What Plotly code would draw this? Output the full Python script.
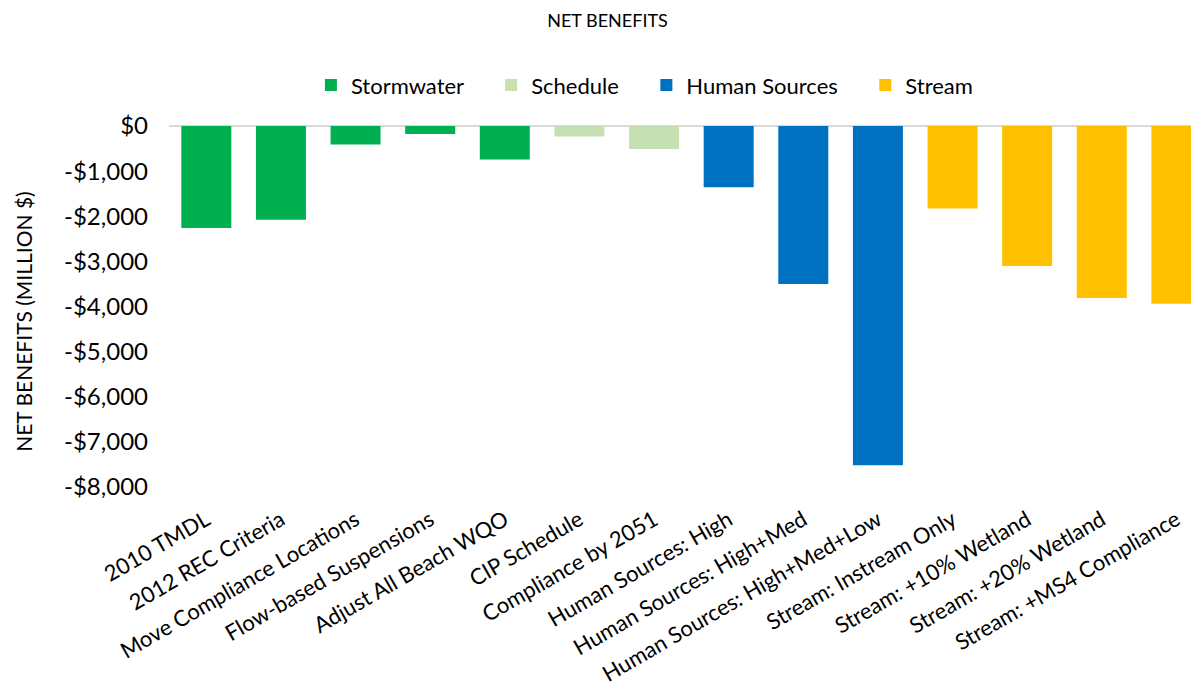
"""
Net benefits bar chart, grouped by scenario family.
"""
import plotly.graph_objects as go

categories = [
    "2010 TMDL", "2012 REC Criteria", "Move Compliance Locations",
    "Flow-based Suspensions", "Adjust All Beach WQO", "CIP Schedule",
    "Compliance by 2051", "Human Sources: High", "Human Sources: High+Med",
    "Human Sources: High+Med+Low", "Stream: Instream Only",
    "Stream: +10% Wetland", "Stream: +20% Wetland", "Stream: +MS4 Compliance",
]
net_benefits = [-2260, -2080, -410, -180, -740, -230, -510,
                -1360, -3500, -7520, -1830, -3100, -3810, -3940]
group = ["Stormwater"] * 5 + ["Schedule"] * 2 + ["Human Sources"] * 3 + ["Stream"] * 4

group_names = ["Stormwater", "Schedule", "Human Sources", "Stream"]
group_colors = ["#00B050", "#C6E0B4", "#0070C0", "#FFC000"]

tick_vals = [0, -1000, -2000, -3000, -4000, -5000, -6000, -7000, -8000]
tick_text = ["$0", "-$1,000", "-$2,000", "-$3,000", "-$4,000",
             "-$5,000", "-$6,000", "-$7,000", "-$8,000"]

FONT = "Lato, 'Open Sans', sans-serif"
PAD = "\u00a0" * 4  # extra gap between legend entries

fig = go.Figure()
for i, (name, color) in enumerate(zip(group_names, group_colors)):
    xs = [c for c, g in zip(categories, group) if g == name]
    ys = [v for v, g in zip(net_benefits, group) if g == name]
    label = name + (PAD if i < len(group_names) - 1 else "")
    fig.add_trace(go.Bar(x=xs, y=ys, name=label, marker_color=color,
                         marker_line_width=0))

# page body adds an 8px offset, so margins are shifted accordingly
fig.update_layout(
    width=1199, height=683,
    paper_bgcolor="white", plot_bgcolor="white",
    font=dict(family=FONT, color="black", size=20),
    title=dict(text="NET BENEFITS", x=0.5, xanchor="center", y=0.982,
               yanchor="middle", font=dict(size=18, family=FONT)),
    barmode="overlay", bargap=0.33,
    margin=dict(l=161, r=0, t=118, b=204, autoexpand=False),
    legend=dict(orientation="h", x=0.458, xanchor="center", y=1.113,
                yanchor="middle", font=dict(size=22), itemwidth=30,
                traceorder="normal"),
    showlegend=True,
)
fig.add_annotation(text="NET BENEFITS (MILLION $)", textangle=-90,
                   xref="paper", yref="paper", x=-0.1397, y=0.4576,
                   xanchor="center", yanchor="middle", showarrow=False,
                   font=dict(size=21))
fig.update_xaxes(categoryorder="array", categoryarray=categories,
                 range=[-0.5, 13.41], tickangle=-30, showgrid=False,
                 showline=False, ticks="", tickfont=dict(size=22),
                 ticklabelstandoff=15, automargin=False)
fig.update_yaxes(range=[-8000, 0], tickvals=tick_vals, ticktext=tick_text,
                 showgrid=False, zeroline=True, zerolinecolor="#D9D9D9",
                 zerolinewidth=2, ticks="", tickfont=dict(size=24),
                 ticklabelstandoff=20, automargin=False)

fig.write_html("out.html")
